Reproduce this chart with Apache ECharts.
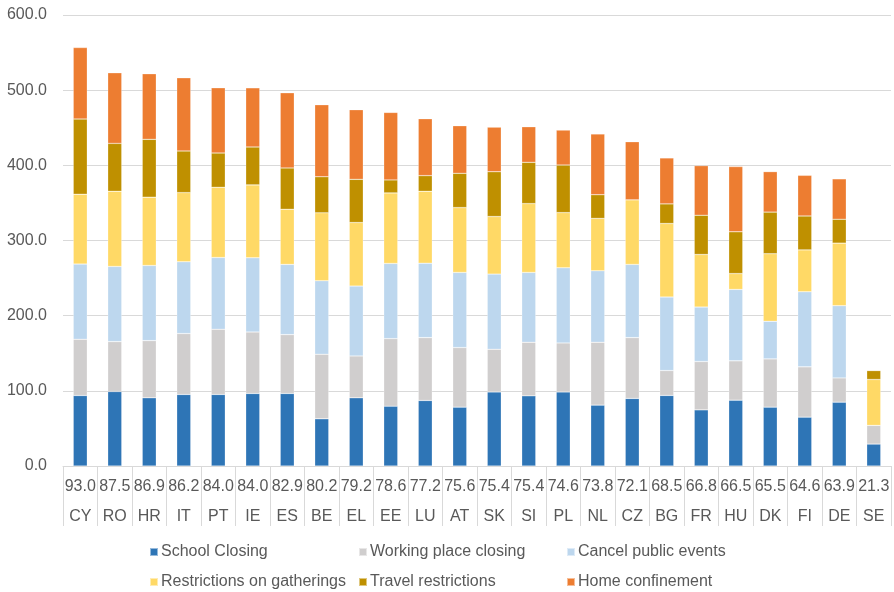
<!DOCTYPE html>
<html>
<head>
<meta charset="utf-8">
<script src="https://cdn.jsdelivr.net/npm/echarts@6/dist/echarts.min.js"></script>
<style>
  html, body { margin: 0; padding: 0; background: #fff; }
  #chart { width: 894px; height: 592px; }
</style>
</head>
<body>
<div id="chart"></div>
<script>
// countries and their overall score (first label row)
const countries = ['CY','RO','HR','IT','PT','IE','ES','BE','EL','EE','LU','AT','SK','SI','PL','NL','CZ','BG','FR','HU','DK','FI','DE','SE'];
const scores = [93.0,87.5,86.9,86.2,84.0,84.0,82.9,80.2,79.2,78.6,77.2,75.6,75.4,75.4,74.6,73.8,72.1,68.5,66.8,66.5,65.5,64.6,63.9,21.3];

// stacked components
const schoolClosing = [93.8,99.1,90.7,95.2,95.2,96.5,96.5,62.8,90.7,79.6,87.2,78.3,98.6,93.3,98.6,81.0,89.9,93.9,74.7,87.6,78.3,65.0,84.9,29.2];
const workClosing = [74.8,66.4,76.1,81.0,86.7,81.8,78.3,85.9,55.7,89.9,83.6,79.3,56.7,71.3,65.1,83.6,80.9,33.1,64.3,52.3,64.2,66.9,32.3,24.8];
const cancelEvents = [100,100,100,95.5,95.5,98.7,93.4,97.8,93.0,100,99.1,99.9,100,92.9,100,95.1,97.4,97.8,72.5,95.0,50.0,99.9,96.1,0];
const gatherings = [93.0,100,90.8,92.0,93.4,97.0,73.4,90.3,84.5,93.8,95.6,86.3,76.6,91.6,73.4,69.7,85.9,97.8,69.9,21.1,89.9,55.7,83.2,61.1];
const travel = [100,63.7,77.0,55.4,45.6,50.4,54.9,48.0,57.5,17.3,20.8,45.6,59.6,54.9,63.3,31.5,0,26.1,52.2,55.6,55.4,45.1,31.8,11.9];
const homeConfinement = [95.1,93.9,87.2,97.3,86.7,78.7,100,95.8,92.6,89.8,75.7,63.3,59.3,47.3,46.5,80.8,77.3,61.1,66.0,86.7,53.8,54.1,53.7,0];

const yTicks = { min: 0, max: 600, step: 100 };

const seriesDefs = [
  { name: 'School Closing', data: schoolClosing, color: '#2E75B6' },
  { name: 'Working place closing', data: workClosing, color: '#D0CECE' },
  { name: 'Cancel public events', data: cancelEvents, color: '#BDD7EE' },
  { name: 'Restrictions on gatherings', data: gatherings, color: '#FFD966' },
  { name: 'Travel restrictions', data: travel, color: '#BF9000' },
  { name: 'Home confinement', data: homeConfinement, color: '#ED7D31' }
];

const grey = '#595959';
const font = 'Liberation Sans, Arial, sans-serif';

// legend slots: 3 columns x 2 rows
const legendPos = [[149, 544], [358, 544], [566, 544], [149, 574], [358, 574], [566, 574]];

const chart = echarts.init(document.getElementById('chart'));
chart.setOption({
  animation: false,
  textStyle: { fontFamily: font },
  grid: { left: 63, right: 3, top: 15, bottom: 126, containLabel: false },
  legend: seriesDefs.map((s, i) => ({
    data: [s.name],
    left: legendPos[i][0],
    top: legendPos[i][1],
    icon: 'rect',
    itemWidth: 8,
    itemHeight: 8,
    selectedMode: false,
    padding: 0,
    textStyle: { fontSize: 16, color: grey, fontFamily: font, padding: [0, 0, 0, -2] }
  })),
  xAxis: {
    type: 'category',
    data: countries,
    axisLine: { lineStyle: { color: '#D9D9D9', width: 1 } },
    axisTick: { show: true, length: 60, interval: 0, lineStyle: { color: '#D9D9D9' } },
    axisLabel: {
      interval: 0,
      margin: 6,
      fontSize: 16,
      lineHeight: 30,
      color: grey,
      fontFamily: font,
      formatter: (v, i) => scores[i].toFixed(1) + '\n' + v
    }
  },
  yAxis: {
    type: 'value',
    min: yTicks.min,
    max: yTicks.max,
    interval: yTicks.step,
    axisLine: { show: false },
    axisTick: { show: false },
    splitLine: { lineStyle: { color: '#D9D9D9', width: 1 } },
    axisLabel: {
      margin: 16,
      fontSize: 16,
      color: grey,
      fontFamily: font,
      formatter: v => v.toFixed(1)
    }
  },
  series: seriesDefs.map(s => ({
    name: s.name,
    type: 'bar',
    stack: 'total',
    barWidth: 14,
    data: s.data,
    itemStyle: { color: s.color, borderColor: 'rgba(255,255,255,0.5)', borderWidth: 0.5 }
  }))
});
</script>
</body>
</html>
